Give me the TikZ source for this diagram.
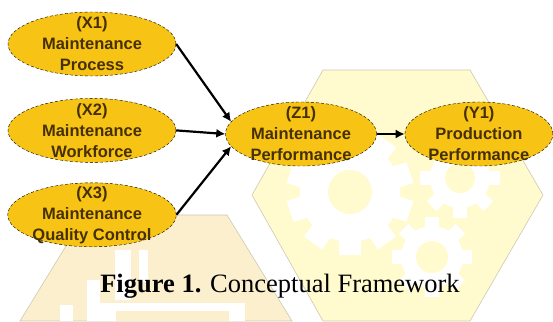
\documentclass[tikz,border=0pt]{standalone}
\usepackage{fontspec}
\setmainfont{Liberation Serif}
\newfontfamily\varfont{Liberation Sans}
\usetikzlibrary{positioning, shapes.geometric, arrows.meta}
\definecolor{NodeGold}{RGB}{247,196,22}
\definecolor{NodeText}{RGB}{70,48,0}
\definecolor{HexYellow}{RGB}{255,251,206}
\definecolor{TrapBeige}{RGB}{251,239,206}
\definecolor{EdgeGray}{RGB}{205,200,178}

% one white cog: centre, step angle, root radius, tip radius, hub radius
\newcommand{\cog}[5]{%
  \begin{scope}[shift={#1}]
    \fill[white] (0,0) circle (#3);
    \foreach \a in {0,#2,...,359}
      \fill[white, rotate=\a] (-0.22*#3,0) rectangle (0.22*#3,#4);
    \fill[HexYellow] (0,0) circle (#5);
  \end{scope}}

\tikzset{
  var/.style={ellipse, draw=black, densely dashed, fill=NodeGold, text=NodeText,
    minimum width=168pt, minimum height=64pt, inner xsep=0pt, inner ysep=-22pt,
    align=center, font=\varfont\bfseries\fontsize{16.5}{21}\selectfont},
  link/.style={-{Latex[length=9pt,width=9pt]}, line width=2.2pt}
}

\begin{document}
\begin{tikzpicture}[x=1pt, y=-1pt]
    \useasboundingbox (0,0) rectangle (553,321);

    % Background hexagon with cogs
    \fill[HexYellow, draw=EdgeGray, line width=0.6pt]
      (323,70) -- (470,70) -- (543,195) -- (470,321) -- (323,321) -- (252,195) -- cycle;
    \cog{(350,192)}{36}{50}{63}{22}
    \cog{(460,178)}{45}{30}{40}{15}
    \cog{(432,257)}{45}{31}{40}{16}

    % Background trapezoid
    \fill[TrapBeige, draw=EdgeGray, line width=0.6pt]
      (20,321) -- (85,215) -- (227,215) -- (292,321) -- cycle;
    \fill[white] (115,250) rectangle (131,300);
    \fill[white] (139,250) rectangle (148,282);
    \fill[white] (87,280) rectangle (100,321);
    \fill[white] (60,305) rectangle (73,321);
    \fill[white] (100,303) rectangle (245,321);
    \fill[TrapBeige] (116,311) rectangle (229,321);

    % Variables
    \node[var] (x1) at (92,44) {(X1)\\Maintenance\\Process};
    \node[var, below=22pt of x1] (x2) {(X2)\\Maintenance\\Workforce};
    \node[var, below=20pt of x2] (x3) {(X3)\\Maintenance\\Quality Control};
    \node[var, minimum width=151pt] (z1) at (301,134) {(Z1)\\Maintenance\\Performance};
    \node[var, minimum width=148pt, right=28pt of z1] (y1) {(Y1)\\Production\\Performance};

    % Paths
    \draw[link] (x1.east) -- (z1.170);
    \draw[link] (x2.east) -- (z1.west);
    \draw[link] (x3.east) -- (z1.190);
    \draw[link] (z1.east) -- (y1.west);

    % Caption
    \node[anchor=base, font=\fontsize{26.5}{30}\selectfont] (caption) at (280,292)
      {\textbf{Figure 1.} Conceptual Framework};
\end{tikzpicture}
\end{document}
